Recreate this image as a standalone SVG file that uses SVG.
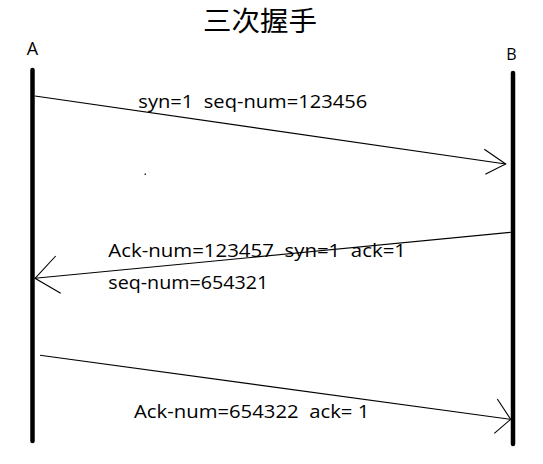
<svg xmlns="http://www.w3.org/2000/svg" width="543" height="464" viewBox="0 0 543 464">
<style>
.life{stroke:#000;stroke-width:4.5;stroke-linecap:round;fill:none}
.msg{stroke:#000;stroke-width:1.1;fill:none}
.lbl{font-family:"Open Sans","Liberation Sans","Noto Sans CJK SC",sans-serif;font-size:17.5px;fill:#000;white-space:pre}
.title{font-family:"Noto Sans CJK SC","Noto Sans CJK JP",sans-serif;font-size:27.5px;fill:#000}
</style>
<rect width="543" height="464" fill="#fff"/>
<text class="title" x="203" y="31" textLength="114" lengthAdjust="spacingAndGlyphs">三次握手</text>
<g id="nodeA">
<text class="lbl" x="32.5" y="55" text-anchor="middle" style="font-size:18px">A</text>
<line class="life" x1="32.5" y1="70" x2="32.5" y2="441"/>
</g>
<g id="nodeB">
<text class="lbl" x="511.5" y="60" text-anchor="middle" style="font-size:16px">B</text>
<line class="life" x1="513" y1="73" x2="513" y2="444"/>
</g>
<g id="connectors">
<line class="msg" x1="35" y1="96" x2="505.7" y2="164"/>
<polyline class="msg" points="484.3,149.3 505.7,164 485.3,174.3"/>
<line class="msg" x1="511" y1="232.3" x2="35" y2="278.3"/>
<polyline class="msg" points="55.7,256 35,278.3 60.7,293.3"/>
<line class="msg" x1="40" y1="355.3" x2="510.7" y2="419.3"/>
<polyline class="msg" points="497.3,399 510.7,419.3 494.3,433.3"/>
</g>
<g id="labels">
<text class="lbl" xml:space="preserve" x="138.3" y="107.7" textLength="229" lengthAdjust="spacingAndGlyphs">syn=1  seq-num=123456</text>
<text class="lbl" xml:space="preserve" x="108.3" y="256.7" textLength="297.7" lengthAdjust="spacingAndGlyphs">Ack-num=123457  syn=1  ack=1</text>
<text class="lbl" xml:space="preserve" x="108.3" y="289.3" textLength="160" lengthAdjust="spacingAndGlyphs">seq-num=654321</text>
<text class="lbl" xml:space="preserve" x="134" y="418.3" textLength="235.3" lengthAdjust="spacingAndGlyphs">Ack-num=654322  ack= 1</text>
</g>
<rect x="144.5" y="173.5" width="1.5" height="1.5" fill="#333"/>
</svg>
